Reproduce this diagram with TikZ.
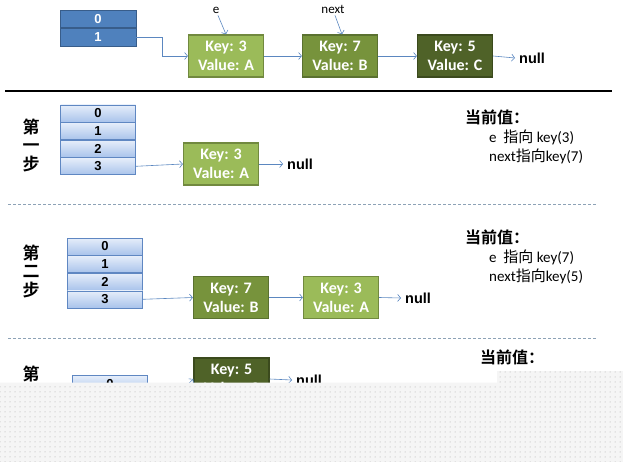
\documentclass[tikz,border=0pt]{standalone}
\usepackage{fontspec}
\setmainfont{Carlito}
\newfontfamily\arialb{Liberation Sans}
\newfontfamily\cjk{Noto Sans CJK SC}[BoldFont={Noto Sans CJK SC Bold}]
\usetikzlibrary{arrows.meta,patterns.meta}
\definecolor{slotdark}{HTML}{4F81BD}
\definecolor{slotdarkline}{HTML}{385D8A}
\definecolor{slottop}{HTML}{E6EEFA}
\definecolor{slotbot}{HTML}{A9C3EB}
\definecolor{slotline}{HTML}{5F87C2}
\definecolor{greenA}{HTML}{9BBB59}
\definecolor{greenAline}{HTML}{71893F}
\definecolor{greenB}{HTML}{77933C}
\definecolor{greenBline}{HTML}{5A7130}
\definecolor{greenC}{HTML}{4F6228}
\definecolor{greenCline}{HTML}{3B4A1D}
\definecolor{linkblue}{HTML}{5B87C0}
\definecolor{sepgray}{HTML}{8DA2B6}

\begin{document}
\begin{tikzpicture}[x=1pt,y=-1pt,
	every node/.style={inner sep=0pt},
	slotA/.style={draw=slotdarkline,fill=slotdark,line width=0.8pt,minimum width=76pt,minimum height=17.5pt,text=white,font=\arialb\bfseries\fontsize{13}{13}\selectfont},
	slot/.style={draw=slotline,top color=slottop,bottom color=slotbot,line width=0.6pt,minimum width=75pt,minimum height=17pt,font=\arialb\bfseries\fontsize{13}{13}\selectfont},
	entry/.style={line width=1.2pt,minimum width=75pt,minimum height=42pt,align=center,text=white,font=\bfseries\fontsize{16}{19}\selectfont},
	keyA/.style={entry,draw=greenAline,fill=greenA},
	keyB/.style={entry,draw=greenBline,fill=greenB},
	keyC/.style={entry,draw=greenCline,fill=greenC},
	link/.style={draw=linkblue,line width=0.6pt,-{Straight Barb[length=3pt,width=7pt]}},
	nulltext/.style={inner xsep=4pt,font=\arialb\bfseries\fontsize{14.5}{14.5}\selectfont},
	steptext/.style={font=\cjk\bfseries\fontsize{17}{18.5}\selectfont,align=center},
	nowtext/.style={anchor=west,font=\cjk\bfseries\fontsize{16}{16}\selectfont},
	ptrtext/.style={anchor=west,font=\fontsize{15}{15}\selectfont},
	sepline/.style={draw=sepgray,line width=0.7pt,dash pattern=on 3pt off 2pt}]
\useasboundingbox (0,0) rectangle (623,462);

% original list
\node[slotA] (t0) at (98,19) {0};
\node[slotA,anchor=north] (t1) at (t0.south) {1};
\node[keyA] (a0) at (226,56) {Key: 3\\Value: A};
\node[keyB] (b0) at (340,56) {Key: 7\\Value: B};
\node[keyC] (c0) at (455,56) {Key: 5\\Value: C};
\node[nulltext,anchor=west] (n0) at (515,58) {null};
\node[font=\fontsize{13}{13}\selectfont] (e0) at (216,10) {e};
\node[font=\fontsize{13}{13}\selectfont] (x0) at (333,9) {next};
\coordinate (bend) at (162,0);
\draw[link] (t1.east) -- (t1.east -| bend) |- (a0.west);
\draw[link] (a0.east) -- (b0.west);
\draw[link] (b0.east) -- (c0.west);
\draw[link] (c0.east) -- (n0.west);
\draw[link] (e0.south) ++(2,2) -- (a0.north);
\draw[link] (x0.south) ++(2,2) -- ([xshift=2pt]b0.north);
\draw[line width=2.6pt] (5,91) -- (612,91);

% step 1
\node[steptext] (s1) at (31,145) {第\\一\\步};
\node[slot] (p0) at (98,113.5) {0};
\foreach \i [count=\j from 0] in {1,2,3}
	\node[slot,anchor=north] (p\i) at (p\j.south) {\i};
\node[keyA] (a1) at (221,164) {Key: 3\\Value: A};
\node[nulltext,anchor=west] (n1) at (283,164) {null};
\draw[link] (p3.east) -- (a1.west);
\draw[link] (a1.east) -- (n1.west);
\node[nowtext] (w1) at (465,117) {当前值：};
\node[ptrtext] (e1) at (489,137) {e~ {\cjk 指向} key(3)};
\node[ptrtext] (x1) at (489,156) {next{\cjk 指向}key(7)};
\draw[sepline] (8,204) -- (597,204);

% step 2
\node[steptext] (s2) at (31,271) {第\\二\\步};
\node[slot] (q0) at (105,246.5) {0};
\foreach \i [count=\j from 0] in {1,2,3}
	\node[slot,anchor=north] (q\i) at (q\j.south) {\i};
\node[keyB] (b2) at (231,297.5) {Key: 7\\Value: B};
\node[keyA] (a2) at (341,297.5) {Key: 3\\Value: A};
\node[nulltext,anchor=west] (n2) at (401,298) {null};
\draw[link] (q3.east) -- (b2.west);
\draw[link] (b2.east) -- (a2.west);
\draw[link] (a2.east) -- (n2.west);
\node[nowtext] (w2) at (465,237) {当前值：};
\node[ptrtext] (e2) at (489,257) {e~ {\cjk 指向} key(7)};
\node[ptrtext] (x2) at (489,276) {next{\cjk 指向}key(5)};
\draw[sepline] (8,338) -- (597,338);

% step 3
\node[steptext] (s3) at (31,374) {第};
\node[slot] (r0) at (110,384) {0};
\node[keyC] (c3) at (231.5,379) {Key: 5\\Value: C};
\node[nulltext,anchor=west] (n3) at (292,380) {null};
\coordinate (r3in) at (185,387);
\draw[link] (r3in) -- (c3.west);
\draw[link] (c3.east) -- (n3.west);
\node[nowtext] (w3) at (480,357) {当前值：};

% cut-off part of the page
\fill[black!4] (0,382.5) -- (497,382.5) -- (497,371) -- (623,371) -- (623,462) -- (0,462) -- cycle;
\fill[pattern={Dots[distance=5pt,radius=0.5pt]},pattern color=black!35] (0,382.5) -- (497,382.5) -- (497,371) -- (623,371) -- (623,462) -- (0,462) -- cycle;
\end{tikzpicture}
\end{document}
